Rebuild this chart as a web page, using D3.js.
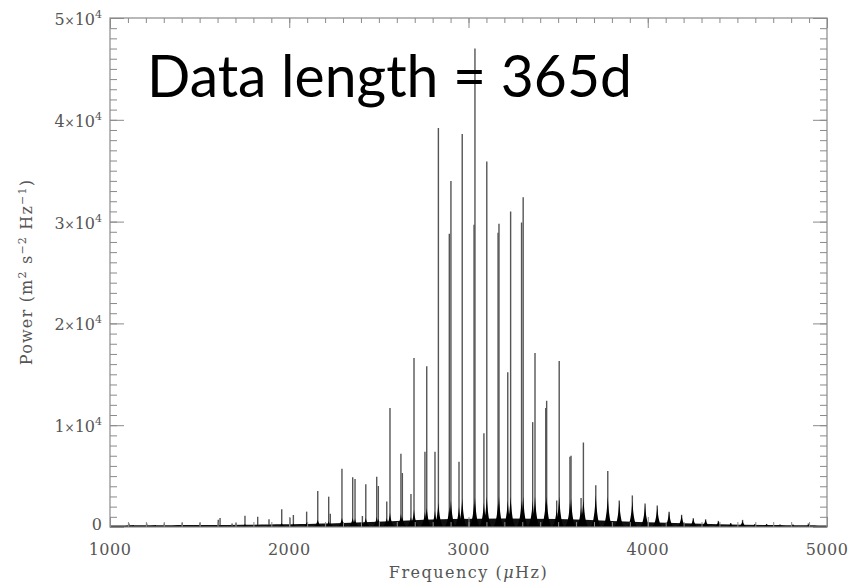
<!DOCTYPE html>
<html>
<head>
<meta charset="utf-8">
<script src="https://cdn.jsdelivr.net/npm/d3@7"></script>
<style>
body { margin: 0; background: #fff; }
svg { display: block; }
</style>
</head>
<body>
<div id="chart"></div>
<script>
// mode frequencies (uHz), spike heights and height of the dark base (m^2 s^-2 Hz^-1)
var peakFreq  = [1106, 1205, 1303, 1403, 1502, 1604, 1614, 1681, 1703, 1753, 1824, 1887, 1958, 2004, 2023, 2097,
                 2159, 2220, 2229, 2294, 2354, 2367, 2408, 2427, 2488, 2497, 2544, 2562, 2623, 2631, 2679, 2696,
                 2757, 2767, 2813, 2832, 2893, 2902, 2947, 2965, 3031, 3036, 3086, 3102, 3165, 3170, 3219, 3235,
                 3296, 3305, 3358, 3371, 3431, 3436, 3492, 3506, 3566, 3572, 3628, 3641, 3710, 3777, 3841, 3914,
                 3985, 4053, 4119, 4189, 4254, 4323, 4394, 4463, 4529, 4598, 4663, 4738, 4810, 4896];
var peakPower = [350, 350, 350, 420, 420, 700, 880, 350, 400, 1110, 1000, 760, 1740, 920, 1180, 1510,
                 3540, 2980, 1300, 5720, 4880, 4720, 1080, 4210, 4940, 4030, 2500, 11700, 7200, 5300, 3250, 16600,
                 7400, 15800, 7400, 39200, 28800, 34000, 6400, 38600, 29700, 47000, 9200, 35900, 28900, 29800, 15200, 31000,
                 29900, 32400, 10300, 17100, 11700, 12400, 2600, 16300, 6900, 7000, 2850, 8300, 4100, 5500, 2600, 3100,
                 2300, 2100, 1500, 1200, 850, 750, 600, 400, 700, 300, 300, 250, 250, 350];
var peakBase  = [100, 100, 100, 100, 120, 200, 200, 100, 150, 300, 250, 250, 400, 300, 350, 450,
                 700, 600, 400, 900, 900, 800, 500, 900, 1000, 800, 900, 1400, 1300, 1000, 1000, 1700,
                 1500, 1900, 1600, 2400, 2000, 2600, 2000, 2800, 2400, 2900, 2400, 3000, 2400, 3000, 2600, 3000,
                 2600, 3000, 2600, 3000, 2600, 3000, 1800, 3000, 2400, 2800, 2000, 2800, 3200, 3000, 2500, 2600,
                 2200, 2000, 1500, 1200, 850, 750, 600, 400, 650, 300, 300, 250, 250, 250];

// background level of the spectrum
var floorFreq  = [1000, 1500, 2000, 2300, 2600, 2900, 3200, 3500, 3800, 4100, 4400, 4700, 5000];
var floorPower = [150, 180, 250, 380, 600, 800, 850, 800, 600, 400, 250, 180, 140];

var xTicks = [1000, 2000, 3000, 4000, 5000];
var xTickLabels = ["1000", "2000", "3000", "4000", "5000"];
var yTicks = [0, 10000, 20000, 30000, 40000, 50000];
var yTickLabels = ["0", "1×10^4", "2×10^4", "3×10^4", "4×10^4", "5×10^4"];

var titleText = "Data length = 365d";

function DrawPowerSpectrum(){
    var margin = {top: 18, right: 32, bottom: 56, left: 110};
    var width = 859 - margin.left - margin.right;
    var height = 583 - margin.top - margin.bottom;
    var axisColor = "#8a8a8a";
    var labelColor = "#555";
    var serif = "'DejaVu Serif', serif";

    var x = d3.scaleLinear().domain([1000, 5000]).range([0, width]);
    var y = d3.scaleLinear().domain([0, 50000]).range([height, 0]);

    var svg = d3.select("#chart")
        .append("svg")
        .attr("width", 859)
        .attr("height", 583)
        .append("g")
        .attr("transform", "translate(" + margin.left + "," + margin.top + ")");

    // background
    var floorArea = d3.area()
        .x(function(d, i) { return x(floorFreq[i]); })
        .y0(y(0))
        .y1(function(d) { return y(d); })
        .curve(d3.curveBasis);
    svg.append("path")
        .datum(floorPower)
        .attr("d", floorArea)
        .attr("fill", "#111");

    // spikes
    svg.selectAll("line.spike")
        .data(peakPower)
        .enter()
        .append("line")
        .attr("class", "spike")
        .attr("x1", function(d, i) { return x(peakFreq[i]); })
        .attr("x2", function(d, i) { return x(peakFreq[i]); })
        .attr("y1", y(0))
        .attr("y2", function(d) { return y(d); })
        .attr("stroke", "#555")
        .attr("stroke-width", 1.4);

    // dark base of each mode
    var halfW = 30;
    svg.selectAll("path.base")
        .data(peakBase)
        .enter()
        .append("path")
        .attr("class", "base")
        .attr("d", function(d, i) {
            var f = peakFreq[i];
            return "M" + x(f - halfW) + "," + y(0) +
                   "C" + x(f - halfW * 0.45) + "," + y(d * 0.05) + " " + x(f - halfW * 0.15) + "," + y(d * 0.5) + " " + x(f) + "," + y(d) +
                   "C" + x(f + halfW * 0.15) + "," + y(d * 0.5) + " " + x(f + halfW * 0.45) + "," + y(d * 0.05) + " " + x(f + halfW) + "," + y(0) + "Z";
        })
        .attr("fill", "#000");

    // axes: major + minor ticks on all four sides, pointing inward
    var xMinor = d3.range(1000, 5001, 100);
    var yMinor = d3.range(0, 50001, 1000);
    function addAxis(axis, transform){
        var g = svg.append("g").attr("transform", transform).call(axis);
        g.select(".domain").remove();
        g.selectAll("line").attr("stroke", axisColor).attr("stroke-width", 1);
        g.selectAll("text").remove();
    }
    addAxis(d3.axisBottom(x).tickValues(xMinor).tickSize(-5), "translate(0," + height + ")");
    addAxis(d3.axisBottom(x).tickValues(xTicks).tickSize(-10), "translate(0," + height + ")");
    addAxis(d3.axisTop(x).tickValues(xMinor).tickSize(-5), "translate(0,0)");
    addAxis(d3.axisTop(x).tickValues(xTicks).tickSize(-10), "translate(0,0)");
    addAxis(d3.axisLeft(y).tickValues(yMinor).tickSize(-7), "translate(0,0)");
    addAxis(d3.axisLeft(y).tickValues(yTicks).tickSize(-14), "translate(0,0)");
    addAxis(d3.axisRight(y).tickValues(yMinor).tickSize(-7), "translate(" + width + ",0)");
    addAxis(d3.axisRight(y).tickValues(yTicks).tickSize(-14), "translate(" + width + ",0)");

    svg.append("rect")
        .attr("width", width)
        .attr("height", height)
        .attr("fill", "none")
        .attr("stroke", axisColor)
        .attr("stroke-width", 1.2);

    // x tick labels
    svg.selectAll("text.xlab")
        .data(xTicks)
        .enter()
        .append("text")
        .attr("class", "xlab")
        .attr("x", function(d) { return x(d); })
        .attr("y", height + 28)
        .attr("text-anchor", "middle")
        .style("font-family", serif)
        .style("font-size", "16px")
        .style("letter-spacing", "0.5px")
        .attr("fill", labelColor)
        .text(function(d, i) { return xTickLabels[i]; });

    // y tick labels with superscript exponent
    var ylab = svg.selectAll("text.ylab")
        .data(yTicks)
        .enter()
        .append("text")
        .attr("class", "ylab")
        .attr("x", -8)
        .attr("y", function(d) { return d === 0 ? y(d) + 3 : y(d) + 7; })
        .attr("text-anchor", "end")
        .style("font-family", serif)
        .style("font-size", "16px")
        .attr("fill", labelColor);
    ylab.each(function(d, i) {
        var parts = yTickLabels[i].split("^");
        var t = d3.select(this);
        var m = parts[0].split("×");
        t.append("tspan").text(m[0]);
        if (m.length > 1) {
            t.append("tspan").style("font-size", "12px").text("×");
            t.append("tspan").text(m[1]);
        }
        if (parts.length > 1) {
            t.append("tspan").attr("dy", -7).style("font-size", "11px").text(parts[1]);
        }
    });

    // axis titles
    var xt = svg.append("text")
        .attr("x", width / 2)
        .attr("y", height + 51)
        .attr("text-anchor", "middle")
        .style("font-family", serif)
        .style("font-size", "16px")
        .style("letter-spacing", "1.5px")
        .attr("fill", labelColor);
    xt.append("tspan").text("Frequency (");
    xt.append("tspan").style("font-style", "italic").text("μ");
    xt.append("tspan").text("Hz)");

    var yt = svg.append("text")
        .attr("transform", "translate(" + (32 - margin.left) + "," + (272 - margin.top) + ") rotate(-90)")
        .attr("text-anchor", "middle")
        .style("font-family", serif)
        .style("font-size", "16px")
        .style("letter-spacing", "1.2px")
        .attr("fill", labelColor);
    yt.append("tspan").text("Power (m");
    yt.append("tspan").attr("dy", -6).style("font-size", "11px").text("2");
    yt.append("tspan").attr("dy", 6).text(" s");
    yt.append("tspan").attr("dy", -6).style("font-size", "11px").text("−2");
    yt.append("tspan").attr("dy", 6).text(" Hz");
    yt.append("tspan").attr("dy", -6).style("font-size", "11px").text("−1");
    yt.append("tspan").attr("dy", 6).text(")");

    // big annotation
    svg.append("text")
        .attr("x", 147 - margin.left)
        .attr("y", 97 - margin.top)
        .attr("textLength", 485)
        .attr("lengthAdjust", "spacingAndGlyphs")
        .style("font-family", "Lato, 'Open Sans', sans-serif")
        .style("font-size", "58px")
        .attr("fill", "#000")
        .text(titleText);
}

DrawPowerSpectrum();
</script>
</body>
</html>
